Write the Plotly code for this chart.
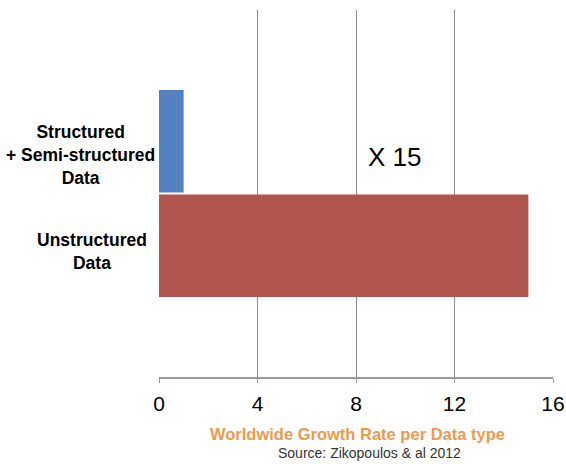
import plotly.graph_objects as go

categories = ["Unstructured Data", "Structured + Semi-structured Data"]
structured_values = [0, 1]
unstructured_values = [15, 0]
x_ticks = [0, 4, 8, 12, 16]
label_lines = {
    "Structured + Semi-structured Data": "Structured<br>+ Semi-structured<br>Data",
    "Unstructured Data": "Unstructured<br>Data",
}

FONT = "Liberation Sans, Arial, Helvetica, sans-serif"

fig = go.Figure()
fig.add_trace(go.Bar(y=categories, x=structured_values, orientation="h",
                     marker=dict(color="#5481BF", line=dict(width=0)),
                     name="Structured"))
fig.add_trace(go.Bar(y=categories, x=unstructured_values, orientation="h",
                     marker=dict(color="#B0564F", line=dict(width=0)),
                     name="Unstructured"))

fig.update_layout(
    width=566, height=464,
    margin=dict(l=159, r=13, t=10, b=87, autoexpand=False),
    paper_bgcolor="white", plot_bgcolor="white",
    barmode="group", bargap=0.01, bargroupgap=0,
    showlegend=False,
    font=dict(family=FONT, color="black"),
)
fig.update_xaxes(range=[0, 16], tickvals=x_ticks, ticktext=[str(v) for v in x_ticks],
                 automargin=False,
                 showgrid=True, gridcolor="#8c8c8c", gridwidth=1,
                 zeroline=False, showline=True, linecolor="#9a9a9a", linewidth=1.5,
                 ticks="outside", ticklen=4, tickcolor="#9a9a9a",
                 ticklabelstandoff=3,
                 tickfont=dict(size=21, color="black", family=FONT))
fig.update_yaxes(type="category", categoryorder="array", categoryarray=categories,
                 automargin=False,
                 range=[-0.386, 1.386], showticklabels=False, showgrid=False,
                 zeroline=False, showline=False, ticks="")

# category labels
fig.add_annotation(xref="paper", yref="paper", x=-0.2005, y=0.605,
                   text="<b>" + label_lines[categories[1]] + "</b>", showarrow=False,
                   align="center", xanchor="center", yanchor="middle",
                   font=dict(size=17.5, color="black", family=FONT))
fig.add_annotation(xref="paper", yref="paper", x=-0.170, y=0.341,
                   text="<b>" + label_lines[categories[0]] + "</b>", showarrow=False,
                   align="center", xanchor="center", yanchor="middle",
                   font=dict(size=17.5, color="black", family=FONT))

fig.add_annotation(xref="x", yref="paper", x=9.57, y=0.599, text="X 15",
                   showarrow=False, xanchor="center", yanchor="middle",
                   font=dict(size=26, color="black", family=FONT))

fig.add_annotation(xref="paper", yref="paper", x=0.505, y=-0.155,
                   text="<b>Worldwide Growth Rate per Data type</b>", showarrow=False,
                   xanchor="center", yanchor="middle",
                   font=dict(size=16.5, color="#EE9A4D", family=FONT))
fig.add_annotation(xref="paper", yref="paper", x=0.533, y=-0.207,
                   text="Source: Zikopoulos & al 2012", showarrow=False,
                   xanchor="center", yanchor="middle",
                   font=dict(size=14, color="#333333", family=FONT))

fig.write_html("out.html")
